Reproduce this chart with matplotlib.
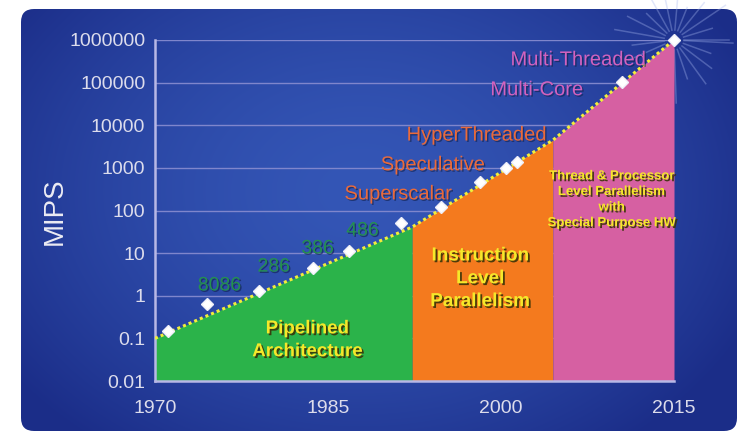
import numpy as np
import matplotlib
matplotlib.use('Agg')
import matplotlib.pyplot as plt
import matplotlib.patheffects as pe
from matplotlib.patches import FancyBboxPatch
from matplotlib.ticker import NullLocator

# processor performance points (year, MIPS)
years_pts = [1971.1, 1974.5, 1979.0, 1983.7, 1986.8, 1991.3, 1994.8, 1998.2, 2000.4, 2001.4, 2010.5, 2015.0]
mips_pts = [0.15, 0.65, 1.3, 4.5, 11, 51, 120, 470, 1000, 1400, 105000, 1000000]

# trend line bounding the three eras
bound_years = [1970, 1992.3, 2004.5, 2015]
bound_mips = [0.1, 41, 4470, 1000000]

region_names = ['Pipelined\nArchitecture',
                'Instruction\nLevel\nParallelism',
                'Thread & Processor\nLevel Parallelism\nwith\nSpecial Purpose HW']
region_colors = ['#2bb34a', '#f47a1e', '#d660a2']

cpu_labels = ['8086', '286', '386', '486']
cpu_label_years = [1975.6, 1980.3, 1984.1, 1988.0]
cpu_label_mips = [1.7, 4.7, 12.6, 33]

tech_labels = ['Superscalar', 'Speculative', 'HyperThreaded', 'Multi-Core', 'Multi-Threaded']
tech_years = [1991.1, 1994.1, 1997.9, 2003.1, 2006.7]
tech_mips = [245, 1180, 5900, 68000, 343000]
tech_colors = ['#ea6a3a', '#ea6a3a', '#ea6a3a', '#d262be', '#d262be']

ytick_vals = [0.01, 0.1, 1, 10, 100, 1000, 10000, 100000, 1000000]
ytick_labels = ['0.01', '0.1', '1', '10', '100', '1000', '10000', '100000', '1000000']
xtick_vals = [1970, 1985, 2000, 2015]

W, H = 738, 432
fig = plt.figure(figsize=(W / 100, H / 100), dpi=100, facecolor='white')

# slide background with gradient and rounded corners
bg = fig.add_axes([0, 0, 1, 1], zorder=0)
bg.set_xlim(0, W)
bg.set_ylim(0, H)
bg.axis('off')
yy, xx = np.mgrid[0:H, 0:W]
d = np.sqrt(((xx - 360) / 430.0) ** 2 + ((yy - 240) / 320.0) ** 2)
d = np.clip(d, 0, 1) ** 1.6
c_mid = np.array([0x34, 0x56, 0xb6]) / 255.0
c_edge = np.array([0x1b, 0x2d, 0x88]) / 255.0
img = c_mid[None, None, :] * (1 - d[..., None]) + c_edge[None, None, :] * d[..., None]
im = bg.imshow(img, extent=[0, W, 0, H], origin='lower', aspect='auto', zorder=0)
slide = FancyBboxPatch((21, 1), 716, 422, boxstyle='round,pad=0,rounding_size=13',
                       transform=bg.transData, facecolor='none', edgecolor='none')
bg.add_patch(slide)
im.set_clip_path(slide)

# main chart
ax = fig.add_axes([155 / W, 51 / H, 519 / W, 341 / H], zorder=1)
ax.set_facecolor('none')
ax.set_yscale('log')
ax.set_xlim(1970, 2015)
ax.set_ylim(0.01, 1e6)
ax.set_yticks(ytick_vals)
ax.set_yticklabels(ytick_labels)
ax.yaxis.set_minor_locator(NullLocator())
ax.set_xticks(xtick_vals)
ax.tick_params(axis='both', length=0, colors='#dcdcec', labelsize=14)
ax.tick_params(axis='y', pad=7)
ax.tick_params(axis='x', pad=14)
for lab in ax.get_xticklabels() + ax.get_yticklabels():
    lab.set_family('Liberation Sans')
ax.yaxis.grid(True, color='#7f86cc', lw=1)
ax.set_axisbelow(True)
for s in ['top', 'right']:
    ax.spines[s].set_visible(False)
for s in ['left', 'bottom']:
    ax.spines[s].set_color('#b8b8e6')
    ax.spines[s].set_linewidth(1.8)
    ax.spines[s].set_zorder(3)

# starburst behind the last point
cx, cy = ax.transData.transform((bound_years[-1], bound_mips[-1]))
for ang, ln in zip(range(0, 360, 17), [55, 40, 62, 48, 35, 58, 44, 66, 38, 52, 60, 42, 50, 36, 57, 46, 63, 41, 54, 47, 39, 59]):
    a = np.deg2rad(ang)
    bg.plot([cx + 10 * np.cos(a), cx + ln * np.cos(a)], [cy + 10 * np.sin(a), cy + ln * np.sin(a)],
            color='#a8b8f0', lw=1.1, alpha=0.35, zorder=1)

# era fills
for i in range(3):
    ax.fill_between(bound_years[i:i + 2], bound_mips[i:i + 2], 0.01,
                    color=region_colors[i], lw=0, zorder=2)

ax.plot(bound_years, bound_mips, color='#f2ee3a', lw=2.2, linestyle=(0, (1, 1)),
        dash_capstyle='butt', zorder=4)
ax.plot(years_pts, mips_pts, 'D', color='white', ms=6.5, mec='#eeeef8', zorder=5, clip_on=False)

shadow_dark = [pe.SimplePatchShadow(offset=(1.3, -1.3), shadow_rgbFace='#3a3408', alpha=0.9), pe.Normal()]
shadow_soft = [pe.SimplePatchShadow(offset=(1, -1), shadow_rgbFace='#10204a', alpha=0.6), pe.Normal()]

region_pos = [(1983.2, 0.09), (1998.2, 2.5), (2009.6, 178)]
region_sizes = [13.5, 13.6, 9.5]
region_spacing = [1.45, 1.45, 1.4]
for name, (x, y), fs, ls in zip(region_names, region_pos, region_sizes, region_spacing):
    ax.text(x, y, name, ha='center', va='center', fontsize=fs, fontweight='bold',
            family='Liberation Sans', color='#f5e82a', linespacing=ls,
            path_effects=shadow_dark, zorder=6)

for lab, x, y in zip(cpu_labels, cpu_label_years, cpu_label_mips):
    ax.text(x, y, lab, ha='center', va='center', fontsize=14, family='Liberation Sans',
            color='#24904f', path_effects=shadow_soft, zorder=6)

for lab, x, y, c in zip(tech_labels, tech_years, tech_mips, tech_colors):
    ax.text(x, y, lab, ha='center', va='center', fontsize=14.5, family='Liberation Sans',
            color=c, path_effects=shadow_soft, zorder=6)

fig.text(55 / W, 1 - 211 / H, 'MIPS', rotation=90, ha='center', va='center',
         fontsize=20, family='Liberation Sans', color='#ececf4')

fig.savefig('out.png', dpi=100, facecolor='white')
